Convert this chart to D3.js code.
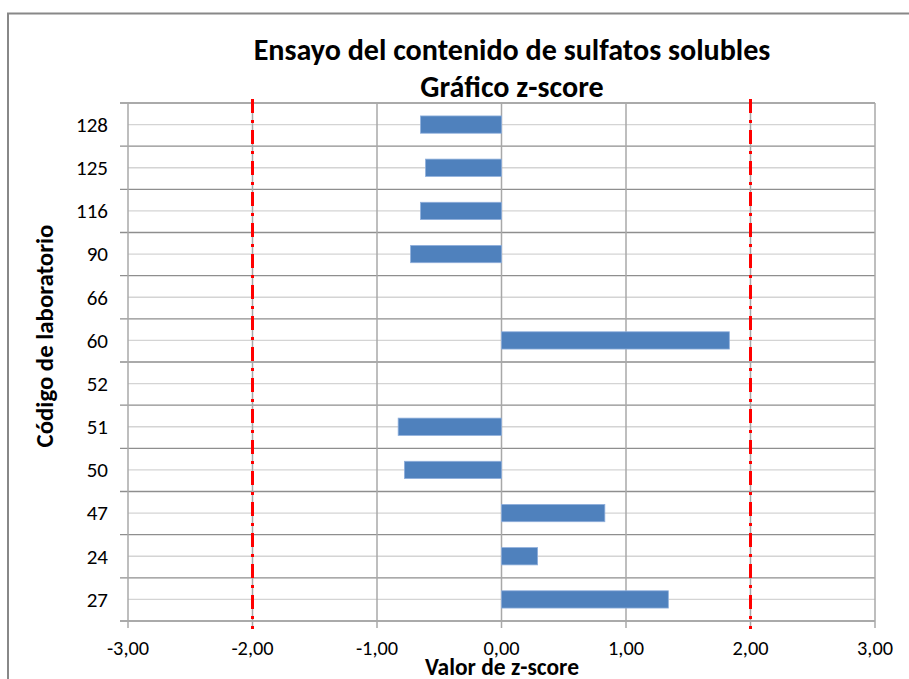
<!DOCTYPE html>
<html>
<head>
<meta charset="utf-8">
<script src="https://cdn.jsdelivr.net/npm/d3@7"></script>
<style>
  html, body { margin: 0; padding: 0; background: #fff; }
  svg { display: block; }
  text { font-family: Carlito, Lato, "Open Sans", sans-serif; fill: #000; }
</style>
</head>
<body>
<svg id="chart" width="909" height="679"></svg>
<script>
const labs = ["128", "125", "116", "90", "66", "60", "52", "51", "50", "47", "24", "27"];
const zScores = [-0.65, -0.61, -0.65, -0.73, 0, 1.83, 0, -0.83, -0.78, 0.83, 0.29, 1.34];
const xTicks = [-3, -2, -1, 0, 1, 2, 3];
const limits = [-2, 2];
const titleLines = ["Ensayo del contenido de sulfatos solubles", "Gráfico z-score"];
const xTitle = "Valor de z-score";
const yTitle = "Código de laboratorio";

const svg = d3.select("#chart");
const W = 909, H = 679;
const plot = { left: 128, right: 875, top: 103, bottom: 621 };

// fit font size so that a given text node reaches a target width
function fitSize(node, target) {
  const base = parseFloat(node.getAttribute("font-size"));
  const w = node.getComputedTextLength();
  return base * target / w;
}

// outer chart border
svg.append("path")
  .attr("d", `M8,${H + 5} L8,13.5 L${W + 5},13.5`)
  .attr("fill", "none").attr("stroke", "#888").attr("stroke-width", 2);

const x = d3.scaleLinear().domain([-3, 3]).range([plot.left, plot.right]);
const y = d3.scaleBand().domain(labs).range([plot.top, plot.bottom]).paddingInner(0).paddingOuter(0);

// minor gridlines at category centres
svg.append("g").selectAll("line").data(labs).join("line")
  .attr("x1", plot.left).attr("x2", plot.right)
  .attr("y1", d => y(d) + y.bandwidth() / 2).attr("y2", d => y(d) + y.bandwidth() / 2)
  .attr("stroke", "#d4d4d4").attr("stroke-width", 1.3);

// major gridlines at band boundaries (with ticks left)
const bounds = labs.map(d => y(d)).concat([plot.bottom]);
svg.append("g").selectAll("line").data(bounds).join("line")
  .attr("x1", plot.left - 8).attr("x2", plot.right)
  .attr("y1", d => d).attr("y2", d => d)
  .attr("stroke", "#8e8e8e").attr("stroke-width", 1.3);

// vertical gridlines with ticks below
svg.append("g").selectAll("line").data(xTicks).join("line")
  .attr("x1", d => x(d)).attr("x2", d => x(d))
  .attr("y1", plot.top).attr("y2", plot.bottom + 7)
  .attr("stroke", "#a8a8a8").attr("stroke-width", 1.5);

// bars
svg.append("g").selectAll("rect").data(labs.map((l, i) => ({ l, v: zScores[i] })).filter(d => d.v !== 0)).join("rect")
  .attr("x", d => x(Math.min(0, d.v)))
  .attr("width", d => Math.abs(x(d.v) - x(0)))
  .attr("y", d => y(d.l) + y.bandwidth() * 0.3)
  .attr("height", y.bandwidth() * 0.4)
  .attr("fill", "#4f81bd").attr("stroke", "#8eaedb").attr("stroke-width", 0.8);

// red limit lines
svg.append("g").selectAll("line").data(limits).join("line")
  .attr("x1", d => x(d)).attr("x2", d => x(d))
  .attr("y1", plot.top - 4).attr("y2", plot.bottom + 8)
  .attr("stroke", "#ff0000").attr("stroke-width", 3)
  .attr("stroke-dasharray", "14,7,3,7");

// x tick labels
const fmt = v => d3.format(".2f")(v).replace(".", ",").replace("−", "-");
const xLab = svg.append("g").selectAll("text").data(xTicks).join("text")
  .attr("x", d => x(d)).attr("y", 655)
  .attr("text-anchor", "middle").attr("font-size", 17).attr("fill", "#222")
  .text(d => fmt(d));
const xs = fitSize(xLab.nodes()[3], 36);
xLab.attr("font-size", xs);

// y tick labels
const yLab = svg.append("g").selectAll("text").data(labs).join("text")
  .attr("x", 108).attr("y", d => y(d) + y.bandwidth() / 2)
  .attr("dy", "0.35em")
  .attr("text-anchor", "end").attr("font-size", 17).attr("fill", "#222")
  .text(d => d);
const ys = fitSize(yLab.nodes()[0], 32);
yLab.attr("font-size", ys);

// titles
const tBase = [60, 97];
const tWidths = [517, 184];
const tl = svg.append("g").selectAll("text").data(titleLines).join("text")
  .attr("x", 512).attr("y", (d, i) => tBase[i])
  .attr("text-anchor", "middle").attr("font-size", 24).attr("font-weight", "bold")
  .text(d => d);
const ts = fitSize(tl.nodes()[0], tWidths[0]);
tl.attr("font-size", ts);

const xt = svg.append("text")
  .attr("x", 502).attr("y", 675)
  .attr("text-anchor", "middle").attr("font-size", 18).attr("font-weight", "bold")
  .text(xTitle);
xt.attr("font-size", fitSize(xt.node(), 154));

const yt = svg.append("text")
  .attr("transform", "translate(53,336) rotate(-90)")
  .attr("text-anchor", "middle").attr("font-size", 18).attr("font-weight", "bold")
  .text(yTitle);
yt.attr("font-size", fitSize(yt.node(), 223));
</script>
</body>
</html>
